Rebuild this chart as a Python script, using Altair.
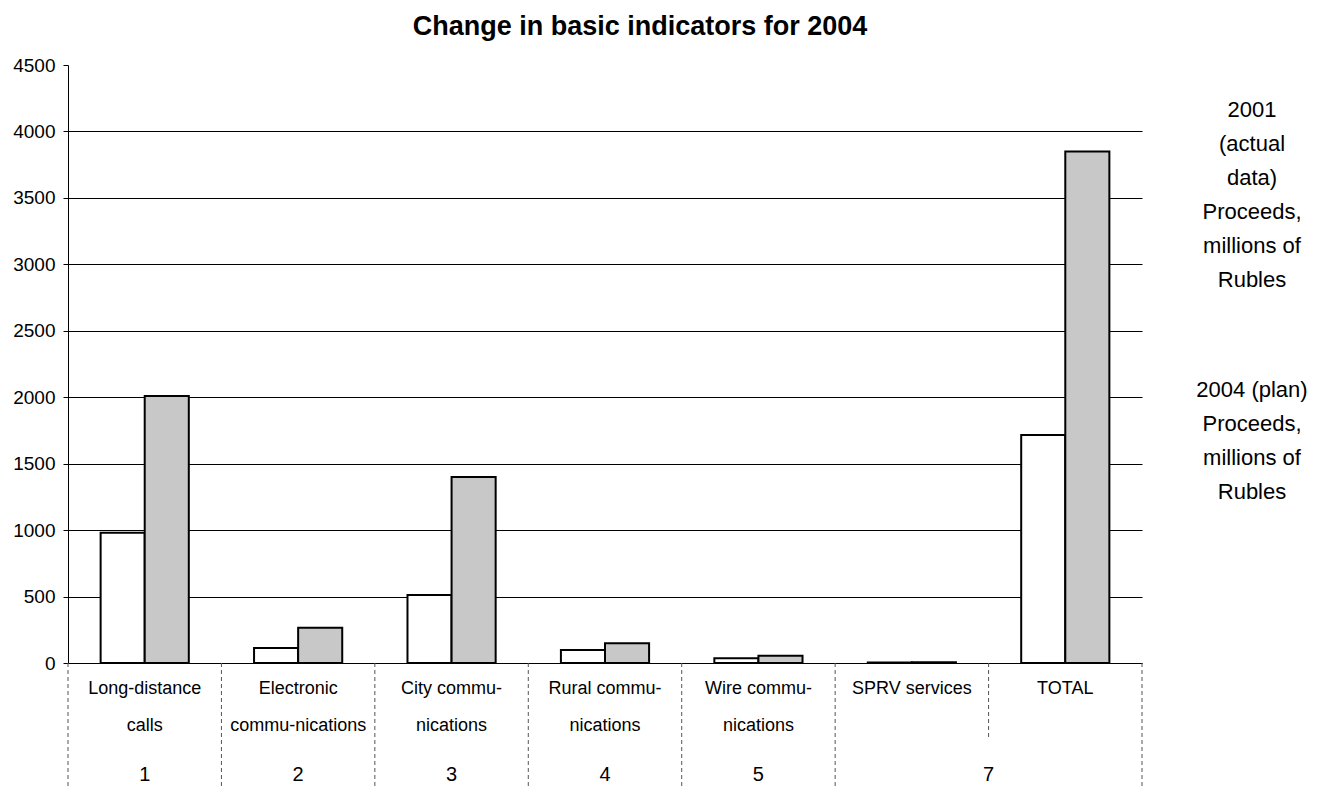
import json
import altair as alt
import pandas as pd

# ---------------- data ----------------
categories = ["Long-distance calls", "Electronic communications", "City communications",
              "Rural communications", "Wire communications", "SPRV services", "TOTAL"]
category_lines = [["Long-distance", "calls"], ["Electronic", "commu-nications"],
                  ["City commu-", "nications"], ["Rural commu-", "nications"],
                  ["Wire commu-", "nications"], ["SPRV services"], ["TOTAL"]]
row_numbers = ["1", "2", "3", "4", "5"]          # under the first five categories
group_number = "7"                               # spans SPRV services + TOTAL

series = ["2001 (actual data) Proceeds, millions of Rubles",
          "2004 (plan) Proceeds, millions of Rubles"]
series_lines = ["2001\n(actual\ndata)\nProceeds,\nmillions of\nRubles",
                "2004 (plan)\nProceeds,\nmillions of\nRubles"]
values_2001 = [980, 112, 512, 98, 36, 4, 1715]
values_2004 = [2010, 265, 1400, 148, 55, 6, 3850]
y_ticks = [0, 500, 1000, 1500, 2000, 2500, 3000, 3500, 4000, 4500]
title_text = "Change in basic indicators for 2004"

# ---------------- tables ----------------
rows = []
for c, a, b in zip(categories, values_2001, values_2004):
    rows.append({"cat": c, "series": series[0], "value": a})
    rows.append({"cat": c, "series": series[1], "value": b})
df = pd.DataFrame(rows)

W, H = 1074, 598
FONT = "Liberation Sans"

cat_map = json.dumps(dict(zip(categories, category_lines)))

x_scale = alt.Scale(paddingInner=0, paddingOuter=0)

bars = alt.Chart(df).mark_bar(stroke="black", strokeWidth=2).encode(
    x=alt.X("cat:N", sort=categories, scale=x_scale,
            axis=alt.Axis(title=None, labelExpr=f"{cat_map}[datum.label]",
                          labelAngle=0, labelFontSize=18, labelLineHeight=37,
                          labelBaseline="top", labelPadding=16, labelLimit=0,
                          ticks=False, domainColor="black", domainWidth=1,
                          labelColor="black", labelFont=FONT)),
    xOffset=alt.XOffset("series:N", sort=series,
                        scale=alt.Scale(paddingOuter=0.74, paddingInner=0)),
    y=alt.Y("value:Q", scale=alt.Scale(domain=[0, 4500], nice=False),
            axis=alt.Axis(title=None, values=y_ticks, format="d", labelFontSize=19,
                          labelPadding=8, tickSize=5, tickColor="black", domainColor="black",
                          gridColor="black", gridWidth=1,
                          gridOpacity={"condition": {"test": "datum.value === 4500", "value": 0},
                                       "value": 1},
                          labelColor="black", labelFont=FONT)),
    fill=alt.Fill("series:N", sort=series,
                  scale=alt.Scale(domain=series, range=["white", "#c8c8c8"]),
                  legend=None),
)

sep_long = pd.DataFrame({"cat": categories[:-1]})
sep_end = pd.DataFrame({"cat": categories[-1:]})

rule_style = dict(color="#555", strokeWidth=1, strokeDash=[4, 3])
seps_a = alt.Chart(sep_long).mark_rule(**rule_style).encode(
    x=alt.X("cat:N", sort=categories, bandPosition=0),
    y=alt.value(H), y2=alt.value(H + 124))
seps_b = alt.Chart(sep_end).mark_rule(**rule_style).encode(
    x=alt.X("cat:N", sort=categories, bandPosition=1),
    y=alt.value(H), y2=alt.value(H + 124))
seps_c = alt.Chart(sep_end).mark_rule(**rule_style).encode(
    x=alt.X("cat:N", sort=categories, bandPosition=0),
    y=alt.value(H), y2=alt.value(H + 77))

num_df = pd.DataFrame({"cat": categories[:5], "num": row_numbers})
nums = alt.Chart(num_df).mark_text(fontSize=20, font=FONT, color="black", baseline="middle").encode(
    x=alt.X("cat:N", sort=categories), y=alt.value(H + 112), text="num:N")
grp_df = pd.DataFrame({"cat": categories[-1:], "num": [group_number]})
grp = alt.Chart(grp_df).mark_text(fontSize=20, font=FONT, color="black", baseline="middle").encode(
    x=alt.X("cat:N", sort=categories, bandPosition=0), y=alt.value(H + 112), text="num:N")

# legend (text only, as in the reference)
leg_style = dict(fontSize=22, font=FONT, color="black", baseline="top", align="center",
                 lineBreak="\n", lineHeight=34)
leg1 = alt.Chart(pd.DataFrame({"t": [series_lines[0]]})).mark_text(**leg_style).encode(
    x=alt.value(W + 110), y=alt.value(35), text="t:N")
leg2 = alt.Chart(pd.DataFrame({"t": [series_lines[1]]})).mark_text(**leg_style).encode(
    x=alt.value(W + 110), y=alt.value(315), text="t:N")

chart = alt.layer(bars, seps_a, seps_b, seps_c, nums, grp, leg1, leg2).properties(
    width=W, height=H,
    title=alt.TitleParams(title_text, fontSize=27, fontWeight="bold", font=FONT,
                          anchor="middle", frame="group", dx=35, offset=15, color="black"),
    autosize=alt.AutoSizeParams(type="none"),
    padding={"left": 60, "top": 57, "right": 171, "bottom": 125},
).configure_view(strokeWidth=0, stroke="transparent")

chart.save("out.html", embed_options={"renderer": "svg", "actions": False})
